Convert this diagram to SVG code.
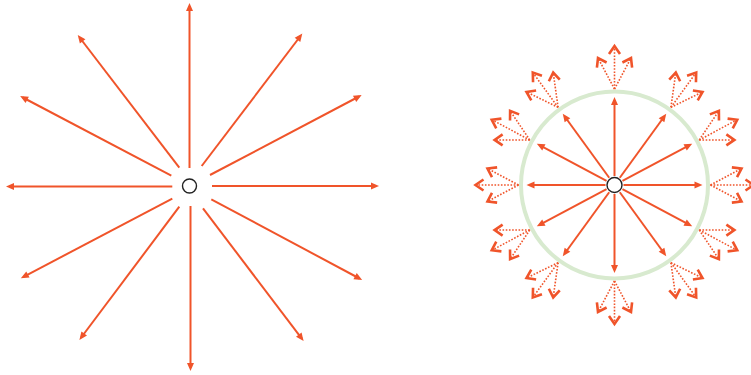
<svg xmlns="http://www.w3.org/2000/svg" width="751" height="375" viewBox="0 0 751 375">
<style>
.a{stroke:#f0542a;stroke-width:2;fill:none;marker-end:url(#tri)}
.d{stroke:#f0542a;stroke-width:1.6;fill:none;stroke-dasharray:1.6 1.6;marker-end:url(#chev)}
.hub{fill:#ffffff;stroke:#222222;stroke-width:1.4}
.ring{fill:none;stroke:#d8eacf;stroke-width:4}
</style>
<defs>
<marker id="tri" markerUnits="userSpaceOnUse" markerWidth="10" markerHeight="8" refX="5" refY="3.5" orient="auto" overflow="visible">
<path d="M0,0 L8,3.5 L0,7 z" fill="#f0542a"/>
</marker>
<marker id="chev" markerUnits="userSpaceOnUse" markerWidth="12" markerHeight="12" refX="8" refY="5.5" orient="auto" overflow="visible">
<path d="M0,0 L8,5.5 L0,11" fill="none" stroke="#f0542a" stroke-width="2.6"/>
</marker>
<g id="fan">
<line class="d" x1="96" y1="0" x2="139" y2="0"/>
<line class="d" x1="96" y1="0" x2="127" y2="-16.5"/>
<line class="d" x1="96" y1="0" x2="127" y2="16.5"/>
</g>
<line id="spoke" class="a" x1="9" y1="0" x2="85" y2="0"/>
</defs>
<g id="connectors">
<g id="left-rays">
<line class="a" x1="189.5" y1="168" x2="189.5" y2="6"/>
<line class="a" x1="201.7" y1="166" x2="300.5" y2="36"/>
<line class="a" x1="210" y1="175" x2="359" y2="96.5"/>
<line class="a" x1="212" y1="186" x2="376" y2="186"/>
<line class="a" x1="211.3" y1="199.3" x2="359.5" y2="278.5"/>
<line class="a" x1="203" y1="208.3" x2="301.8" y2="338.7"/>
<line class="a" x1="190.5" y1="206" x2="190.5" y2="368"/>
<line class="a" x1="179.3" y1="206.7" x2="81.2" y2="337.5"/>
<line class="a" x1="172.3" y1="198.7" x2="23.5" y2="276.8"/>
<line class="a" x1="172.3" y1="186.5" x2="9" y2="186.5"/>
<line class="a" x1="171.3" y1="175.7" x2="22.8" y2="97.5"/>
<line class="a" x1="179.3" y1="167.7" x2="79.6" y2="37.5"/>
</g>
</g>
<g id="right-ring">
<circle class="ring" cx="614.5" cy="185" r="93.5"/>
</g>
<g id="right-spokes" transform="translate(614.5,185)">
<use href="#spoke" transform="rotate(0)"/>
<use href="#spoke" transform="rotate(-28)"/>
<use href="#spoke" transform="rotate(-54)"/>
<use href="#spoke" transform="rotate(-90)"/>
<use href="#spoke" transform="rotate(-126)"/>
<use href="#spoke" transform="rotate(-152)"/>
<use href="#spoke" transform="rotate(-180)"/>
<use href="#spoke" transform="rotate(-208)"/>
<use href="#spoke" transform="rotate(-234)"/>
<use href="#spoke" transform="rotate(-270)"/>
<use href="#spoke" transform="rotate(-306)"/>
<use href="#spoke" transform="rotate(-332)"/>
</g>
<g id="right-fans" transform="translate(614.5,185)">
<use href="#fan" transform="rotate(0)"/>
<use href="#fan" transform="rotate(-28)"/>
<use href="#fan" transform="rotate(-54)"/>
<use href="#fan" transform="rotate(-90)"/>
<use href="#fan" transform="rotate(-126)"/>
<use href="#fan" transform="rotate(-152)"/>
<use href="#fan" transform="rotate(-180)"/>
<use href="#fan" transform="rotate(-208)"/>
<use href="#fan" transform="rotate(-234)"/>
<use href="#fan" transform="rotate(-270)"/>
<use href="#fan" transform="rotate(-306)"/>
<use href="#fan" transform="rotate(-332)"/>
</g>
<g id="left-hub">
<circle class="hub" cx="189.5" cy="186" r="7"/>
</g>
<g id="right-hub">
<circle class="hub" cx="614.5" cy="185" r="7.5"/>
</g>
</svg>
